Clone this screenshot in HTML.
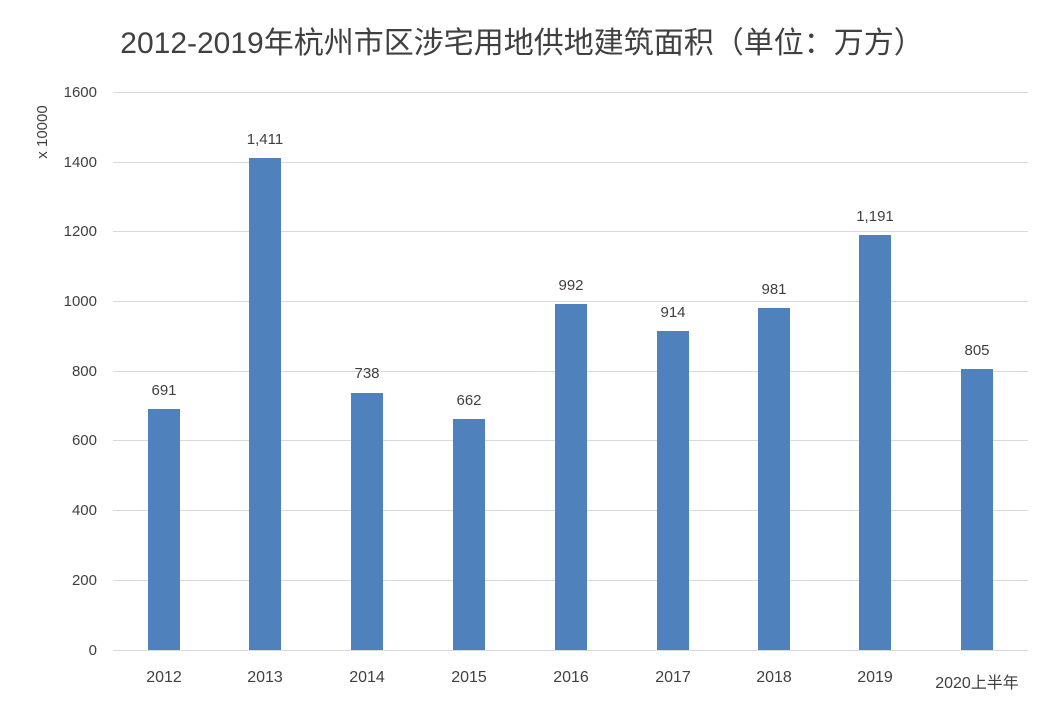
<!DOCTYPE html>
<html><head><meta charset="utf-8"><style>
body{margin:0;background:#fff;}
svg{display:block;font-family:"Liberation Sans","Noto Sans CJK SC",sans-serif;}
</style></head><body>
<svg width="1051" height="709" viewBox="0 0 1051 709" xmlns="http://www.w3.org/2000/svg">
<rect width="1051" height="709" fill="#fff"/>
<text x="522" y="53" text-anchor="middle" font-size="30" fill="#404040">2012-2019年杭州市区涉宅用地供地建筑面积（单位：万方）</text>
<g stroke="#d9d9d9" stroke-width="1">
<line x1="113" x2="1028" y1="92.5" y2="92.5"/>
<line x1="113" x2="1028" y1="162.5" y2="162.5"/>
<line x1="113" x2="1028" y1="231.5" y2="231.5"/>
<line x1="113" x2="1028" y1="301.5" y2="301.5"/>
<line x1="113" x2="1028" y1="371.5" y2="371.5"/>
<line x1="113" x2="1028" y1="440.5" y2="440.5"/>
<line x1="113" x2="1028" y1="510.5" y2="510.5"/>
<line x1="113" x2="1028" y1="580.5" y2="580.5"/>
<line x1="113" x2="1028" y1="650.5" y2="650.5"/>
</g>
<g font-size="15" fill="#404040" text-anchor="end">
<text x="97" y="97">1600</text><text x="97" y="167">1400</text><text x="97" y="236">1200</text>
<text x="97" y="306">1000</text><text x="97" y="376">800</text><text x="97" y="445">600</text>
<text x="97" y="515">400</text><text x="97" y="585">200</text><text x="97" y="655">0</text>
</g>
<text transform="translate(47,132) rotate(-90)" text-anchor="middle" font-size="15" fill="#404040">x 10000</text>
<g fill="#4f81bd">
<rect x="148" y="409" width="32" height="241"/>
<rect x="249" y="158" width="32" height="492"/>
<rect x="351" y="393" width="32" height="257"/>
<rect x="453" y="419" width="32" height="231"/>
<rect x="555" y="304" width="32" height="346"/>
<rect x="657" y="331" width="32" height="319"/>
<rect x="758" y="308" width="32" height="342"/>
<rect x="859" y="235" width="32" height="415"/>
<rect x="961" y="369" width="32" height="281"/>
</g>
<g font-size="15" fill="#404040" text-anchor="middle">
<text x="164" y="395">691</text><text x="265" y="144">1,411</text><text x="367" y="378">738</text>
<text x="469" y="405">662</text><text x="571" y="290">992</text><text x="673" y="317">914</text>
<text x="774" y="294">981</text><text x="875" y="221">1,191</text><text x="977" y="355">805</text>
</g>
<g font-size="16" fill="#404040" text-anchor="middle">
<text x="164" y="682">2012</text><text x="265" y="682">2013</text><text x="367" y="682">2014</text>
<text x="469" y="682">2015</text><text x="571" y="682">2016</text><text x="673" y="682">2017</text>
<text x="774" y="682">2018</text><text x="875" y="682">2019</text><text x="977" y="688">2020上半年</text>
</g>
</svg>
</body></html>
